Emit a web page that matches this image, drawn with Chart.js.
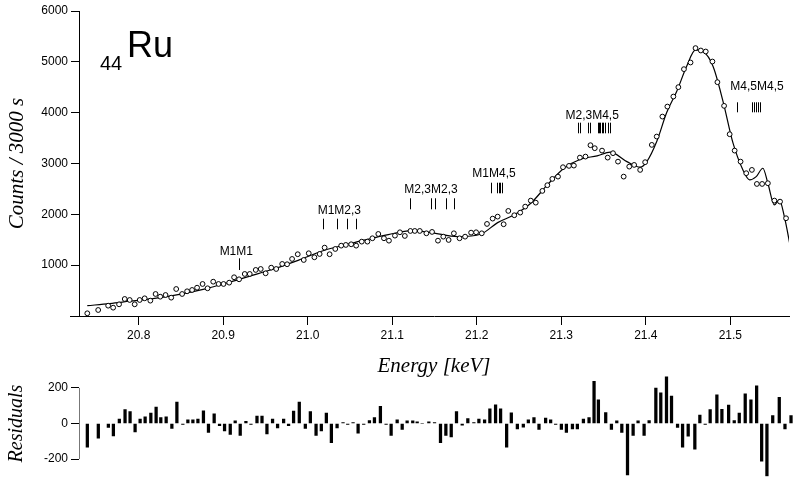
<!DOCTYPE html>
<html>
<head>
<meta charset="utf-8">
<script src="https://cdn.jsdelivr.net/npm/chart.js@4.4.1/dist/chart.umd.min.js"></script>
<style>
  html, body { margin:0; padding:0; background:#fff; }
  #wrap { position:relative; width:794px; height:487px; overflow:hidden; }
  #main { position:absolute; left:0; top:0; }
  #resid { position:absolute; left:0; top:360px; }
</style>
</head>
<body>
<div id="wrap">
  <canvas id="main" width="794" height="390"></canvas>
  <canvas id="resid" width="794" height="127"></canvas>
</div>
<script>
// ---- Datos medidos (energia en keV, cuentas / 3000 s)
const energy = [
  20.7392, 20.7521, 20.7639, 20.7698, 20.7768, 20.7835, 20.7894, 20.7953, 20.8012, 20.8071,
  20.8138, 20.8200, 20.8255, 20.8318, 20.8385, 20.8444, 20.8514, 20.8573, 20.8632, 20.8691,
  20.8756, 20.8815, 20.8882, 20.8945, 20.9004, 20.9071, 20.9129, 20.9188, 20.9255, 20.9314,
  20.9385, 20.9444, 20.9502, 20.9568, 20.9627, 20.9698, 20.9756, 20.9815, 20.9882, 20.9953,
  21.0012, 21.0079, 21.0141, 21.0200, 21.0259, 21.0326, 21.0396, 21.0451, 21.0514, 21.0573,
  21.0639, 21.0706, 21.0765, 21.0835, 21.0902, 21.0961, 21.1032, 21.1091, 21.1149, 21.1215,
  21.1267, 21.1326, 21.1404, 21.1471, 21.1541, 21.1604, 21.1667, 21.1729, 21.1796, 21.1862,
  21.1933, 21.1992, 21.2059, 21.2121, 21.2188, 21.2247, 21.2318, 21.2373, 21.2444, 21.2514,
  21.2573, 21.2639, 21.2698, 21.2776, 21.2835, 21.2894, 21.2961, 21.3020, 21.3091, 21.3149,
  21.3220, 21.3286, 21.3345, 21.3396, 21.3482, 21.3549, 21.3612, 21.3671, 21.3738, 21.3804,
  21.3862, 21.3933, 21.3992, 21.4071, 21.4129, 21.4196, 21.4255, 21.4326, 21.4385, 21.4451,
  21.4529, 21.4588, 21.4651, 21.4709, 21.4788, 21.4847, 21.4926, 21.4992, 21.5051, 21.5121,
  21.5188, 21.5255, 21.5314, 21.5376, 21.5444, 21.5521, 21.5588, 21.5659
];
const counts = [
  53, 118, 203, 164, 230, 335, 315, 230, 315, 348,
  302, 433, 380, 413, 361, 531, 433, 486, 512, 557,
  630, 545, 675, 630, 630, 656, 762, 722, 827, 827,
  906, 925, 840, 951, 925, 1024, 1018, 1122, 1215, 1102,
  1234, 1155, 1220, 1345, 1215, 1319, 1384, 1398, 1411, 1384,
  1463, 1463, 1529, 1614, 1529, 1482, 1581, 1647, 1575, 1673,
  1673, 1673, 1627, 1654, 1482, 1561, 1496, 1627, 1529, 1561,
  1640, 1647, 1627, 1811, 1916, 1955, 1805, 2067, 1982, 2034,
  2152, 2270, 2230, 2461, 2573, 2697, 2742, 2927, 2953, 2959,
  3116, 3136, 3360, 3301, 3254, 3116, 3203, 3037, 2742, 2939,
  2972, 2874, 3026, 3366, 3530, 3923, 4120, 4317, 4502, 4856,
  4987, 5270, 5223, 5203, 5006, 4600, 4134, 3576, 3254, 3037,
  2809, 2874, 2598, 2598, 2612, 2270, 2250, 1923
];
const residuals = [
  -133, -83, -22, -70, 25, 78, 67, -47, 25, 38,
  58, 92, 33, 38, -28, 120, -5, 20, 20, 25,
  72, -50, 55, -12, -42, -62, 15, -67, 12, -5,
  42, 42, -58, 25, -25, 25, -12, 70, 120, -28,
  67, -67, -42, 58, -108, -25, 5, -5, 5, -55,
  -5, 17, 33, 97, -5, -67, 20, -33, 15, 15,
  10, 0, 10, 5, -108, -67, -75, 67, -10, 28,
  5, 25, 20, 83, 105, 83, -133, 60, -30, -20,
  20, 33, -33, 30, 20, -5, -33, -50, -30, -30,
  25, 33, 238, 133, 62, -33, 15, -50, -290, -67,
  15, -67, 17, 200, 172, 262, 155, -22, -133, -72,
  -145, 47, -5, 78, 162, 80, 103, 17, 58, 167,
  133, 212, -212, -295, 45, 147, -30, 45
];

// ---- Curva de ajuste
const fitEnergy = [
  20.7392, 20.7659, 20.7894, 20.8188, 20.8482, 20.8776, 20.9032, 20.9306, 20.9620, 20.9894,
  21.0208, 21.0424, 21.0679, 21.0953, 21.1227, 21.1462, 21.1776, 21.2051, 21.2247, 21.2444,
  21.2639, 21.2835, 21.3032, 21.3227, 21.3424, 21.3580, 21.3776, 21.3933, 21.4012, 21.4129,
  21.4247, 21.4365, 21.4482, 21.4588, 21.4679, 21.4796, 21.4914, 21.5032, 21.5149, 21.5227,
  21.5306, 21.5385, 21.5444, 21.5521, 21.5580, 21.5639, 21.5710
];
const fitCounts = [
  203, 245, 290, 345, 427, 530, 644, 780, 939, 1100,
  1299, 1390, 1496, 1600, 1679, 1640, 1561, 1614, 1837, 1990,
  2218, 2579, 2907, 3084, 3150, 3222, 3037, 2927, 3037, 3431,
  4002, 4415, 4908, 5236, 5203, 4908, 4219, 3400, 2874, 2677,
  2742, 2907, 2612, 2185, 2283, 1955, 1364
];

// ---- Ejes
const xMin = 20.7294, xMax = 21.5694;
const xTicks = [20.8, 20.9, 21.0, 21.1, 21.2, 21.3, 21.4, 21.5];
const yTicks = [1000, 2000, 3000, 4000, 5000, 6000];
const residTicks = [-200, 0, 200];

// ---- Transiciones (etiqueta, posicion de la etiqueta, marcas)
const lineNames = ['M1M1', 'M1M2,3', 'M2,3M2,3', 'M1M4,5', 'M2,3M4,5', 'M4,5M4,5'];
const lineLabelE = [20.9155, 21.0374, 21.1459, 21.2204, 21.3365, 21.5315];
const lineLabelY = [1200, 2007, 2426, 2741, 3882, 4446];
const lineTickTop = [1135, 1914, 2316, 2622, 3803, 4204];
const lineTickBottom = [905, 1706, 2099, 2414, 3594, 4007];
const lineEnergies = [
  [20.919],
  [21.0176, 21.0341, 21.0467, 21.0568],
  [21.1212, 21.1455, 21.1502, 21.1639, 21.1726],
  [21.2168, 21.2241, 21.2259, 21.2276, 21.2294],
  [21.3196, 21.3227, 21.3314, 21.3345, 21.3432, 21.3447, 21.3462, 21.3479, 21.3494, 21.3521, 21.3549, 21.3580],
  [21.5082, 21.5255, 21.5279, 21.5302, 21.5326, 21.5345]
];

const SANS = '"Liberation Sans", Arial, sans-serif';
const SERIF = '"Liberation Serif", "Times New Roman", serif';
Chart.defaults.color = '#000';
Chart.defaults.font.family = SANS;

const pts = (xs, ys) => xs.map((x, i) => ({ x, y: ys[i] }));

// ---- Anotaciones del panel principal
const annot = {
  id: 'annot',
  afterDatasetsDraw(chart){
    const { ctx, scales: { x, y } } = chart;
    ctx.save();
    ctx.fillStyle = '#000';
    ctx.strokeStyle = '#000';
    ctx.lineWidth = 1;
    ctx.font = '12px ' + SANS;
    ctx.textAlign = 'center';
    ctx.textBaseline = 'alphabetic';
    lineNames.forEach((name, i) => {
      ctx.fillText(name, x.getPixelForValue(lineLabelE[i]), y.getPixelForValue(lineLabelY[i]));
      const y0 = y.getPixelForValue(lineTickTop[i]);
      const y1 = y.getPixelForValue(lineTickBottom[i]);
      lineEnergies[i].forEach(e => {
        const px = Math.round(x.getPixelForValue(e)) + 0.5;
        ctx.beginPath(); ctx.moveTo(px, y0); ctx.lineTo(px, y1); ctx.stroke();
      });
    });
    // simbolo del elemento
    ctx.textAlign = 'left';
    ctx.font = '36px ' + SANS;
    ctx.fillText('Ru', 127, 57);
    ctx.font = '20px ' + SANS;
    ctx.fillText('44', 100, 70);
    // el eje x sobresale a la izquierda
    ctx.beginPath();
    ctx.moveTo(70, x.top + 0.5); ctx.lineTo(x.left, x.top + 0.5);
    ctx.stroke();
    ctx.restore();
  }
};

new Chart(document.getElementById('main'), {
  type: 'line',
  data: {
    datasets: [
      {
        label: 'data',
        data: pts(energy, counts),
        showLine: false,
        pointRadius: 2.4,
        pointBorderWidth: 1,
        pointBorderColor: '#000',
        pointBackgroundColor: '#fff',
        order: 1
      },
      {
        label: 'fit',
        data: pts(fitEnergy, fitCounts),
        borderColor: '#000',
        borderWidth: 1.2,
        pointRadius: 0,
        cubicInterpolationMode: 'monotone',
        fill: false,
        order: 2
      }
    ]
  },
  options: {
    responsive: false,
    animation: false,
    devicePixelRatio: 1,
    layout: { padding: { top: 11, right: 0, left: 0, bottom: 0 } },
    plugins: { legend: { display: false }, tooltip: { enabled: false } },
    scales: {
      x: {
        type: 'linear', min: xMin, max: xMax,
        afterBuildTicks: s => { s.ticks = xTicks.map(v => ({ value: v })); },
        afterFit: s => { s.height = 74; },
        border: { display: true, color: '#000', width: 1 },
        grid: { drawOnChartArea: false, drawTicks: true, tickLength: 9, tickColor: '#000' },
        ticks: { font: { size: 12 }, padding: 3, maxRotation: 0, callback: v => v.toFixed(1) },
        title: { display: true, text: 'Energy [keV]', font: { family: SERIF, size: 21, style: 'italic' }, padding: { top: 0, bottom: 11 } }
      },
      y: {
        type: 'linear', min: 0, max: 6000,
        afterBuildTicks: s => { s.ticks = yTicks.map(v => ({ value: v })); },
        afterFit: s => { s.width = 79; },
        border: { display: true, color: '#000', width: 1 },
        grid: { drawOnChartArea: false, drawTicks: true, tickLength: 8, tickColor: '#000' },
        ticks: { font: { size: 12 }, padding: 3, callback: v => String(v) },
        title: { display: true, text: 'Counts / 3000 s', font: { family: SERIF, size: 21, style: 'italic' }, padding: { top: 5, bottom: 0 } }
      }
    }
  },
  plugins: [annot]
});

// ---- Panel de residuos
const residAxis = {
  id: 'residAxis',
  afterDraw(chart){
    const { ctx, scales: { y } } = chart;
    ctx.save();
    ctx.strokeStyle = '#777';
    ctx.lineWidth = 1;
    ctx.beginPath();
    ctx.moveTo(y.right + 0.5, y.getPixelForValue(200));
    ctx.lineTo(y.right + 0.5, y.getPixelForValue(-200));
    ctx.stroke();
    ctx.restore();
  }
};

new Chart(document.getElementById('resid'), {
  type: 'bar',
  data: {
    datasets: [{
      label: 'residuals',
      data: pts(energy, residuals),
      backgroundColor: '#000',
      borderWidth: 0,
      barThickness: 2.6
    }]
  },
  options: {
    responsive: false,
    animation: false,
    devicePixelRatio: 1,
    layout: { padding: { top: 5, right: 0, left: 0, bottom: 2 } },
    plugins: { legend: { display: false }, tooltip: { enabled: false } },
    scales: {
      x: { type: 'linear', min: xMin, max: xMax, offset: false, display: false },
      y: {
        type: 'linear', min: -300, max: 300,
        afterBuildTicks: s => { s.ticks = residTicks.map(v => ({ value: v })); },
        afterFit: s => { s.width = 79; },
        border: { display: false },
        grid: { drawOnChartArea: false, drawTicks: true, tickLength: 8, tickColor: '#000' },
        ticks: { font: { size: 12 }, padding: 3, callback: v => String(v) },
        title: { display: true, text: 'Residuals', font: { family: SERIF, size: 20, style: 'italic' }, padding: { top: 5, bottom: 0 } }
      }
    }
  },
  plugins: [residAxis]
});
</script>
</body>
</html>
